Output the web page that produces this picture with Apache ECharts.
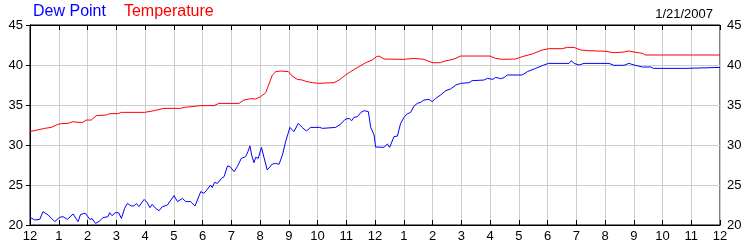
<!DOCTYPE html>
<html>
<head>
<meta charset="utf-8">
<script src="https://cdn.jsdelivr.net/npm/echarts@6/dist/echarts.min.js"></script>
<style>html,body{margin:0;padding:0;background:#fff;}#c{width:750px;height:250px;}</style>
</head>
<body>
<div id="c"></div>
<script>
var hourLabels = ['12','1','2','3','4','5','6','7','8','9','10','11','12','1','2','3','4','5','6','7','8','9','10','11','12'];
var yTicks = [20, 25, 30, 35, 40, 45];
var dateLabel = '1/21/2007';
var seriesNames = ['Dew Point', 'Temperature'];

var tempHours = [0, 0.28, 0.51, 0.74, 0.97, 1.09, 1.32, 1.5, 1.67, 1.84, 1.96, 2.13, 2.31, 2.66, 2.77, 3.06, 3.18, 3.99, 4.31, 4.66, 5.24, 5.36, 5.59, 5.94, 6.4, 6.57, 7.27, 7.44, 7.68, 7.85, 8.02, 8.2, 8.43, 8.55, 8.72, 8.99, 9.12, 9.3, 9.47, 9.59, 9.82, 10.05, 10.57, 10.75, 10.98, 11.15, 11.44, 11.68, 11.9, 12.05, 12.14, 12.31, 13.01, 13.36, 13.7, 13.99, 14.28, 14.4, 14.75, 14.98, 16.0, 16.19, 16.42, 16.89, 17.12, 17.47, 17.82, 18.05, 18.5, 18.69, 18.92, 19.15, 19.44, 20.03, 20.31, 20.66, 20.83, 21.01, 21.3, 21.41, 24];
var tempValues = [31.67, 31.9, 32.08, 32.2, 32.58, 32.67, 32.7, 32.92, 32.83, 32.83, 33.12, 33.12, 33.67, 33.75, 33.92, 33.92, 34.08, 34.08, 34.29, 34.58, 34.58, 34.7, 34.79, 34.92, 34.92, 35.2, 35.2, 35.62, 35.79, 35.75, 36.04, 36.54, 38.75, 39.17, 39.25, 39.17, 38.62, 38.2, 38.12, 37.96, 37.79, 37.71, 37.79, 38.12, 38.75, 39.17, 39.79, 40.29, 40.62, 41.04, 41.12, 40.75, 40.71, 40.83, 40.71, 40.29, 40.29, 40.46, 40.75, 41.12, 41.12, 40.83, 40.71, 40.75, 41.04, 41.38, 41.88, 42.04, 42.04, 42.2, 42.2, 41.88, 41.79, 41.71, 41.54, 41.62, 41.75, 41.62, 41.46, 41.25, 41.25];

var dewHours = [0, 0.16, 0.34, 0.45, 0.63, 0.86, 1.03, 1.15, 1.3, 1.5, 1.67, 1.76, 1.93, 2.08, 2.16, 2.28, 2.42, 2.54, 2.71, 2.77, 2.85, 2.97, 3.08, 3.18, 3.29, 3.39, 3.52, 3.62, 3.7, 3.79, 3.97, 4.08, 4.17, 4.25, 4.37, 4.49, 4.6, 4.78, 4.9, 5.01, 5.13, 5.3, 5.42, 5.59, 5.74, 5.94, 6.05, 6.17, 6.28, 6.34, 6.42, 6.52, 6.66, 6.75, 6.87, 6.96, 7.1, 7.21, 7.35, 7.5, 7.58, 7.65, 7.71, 7.79, 7.85, 7.94, 8.05, 8.25, 8.43, 8.55, 8.66, 8.78, 8.89, 9.04, 9.18, 9.24, 9.33, 9.47, 9.61, 9.76, 10.08, 10.11, 10.17, 10.63, 10.81, 10.96, 11.1, 11.19, 11.27, 11.39, 11.5, 11.62, 11.77, 11.85, 11.97, 12.02, 12.31, 12.43, 12.51, 12.66, 12.78, 12.89, 13.01, 13.12, 13.24, 13.36, 13.47, 13.59, 13.7, 13.88, 13.99, 14.11, 14.28, 14.46, 14.63, 14.81, 14.98, 15.27, 15.38, 15.79, 15.91, 16.1, 16.2, 16.37, 16.49, 16.6, 17.12, 17.3, 17.59, 17.82, 18.03, 18.75, 18.83, 18.92, 19.1, 19.27, 20.14, 20.31, 20.66, 20.83, 21.01, 21.3, 21.59, 21.68, 22.81, 22.86, 24];
var dewValues = [20.96, 20.63, 20.7, 21.67, 21.25, 20.42, 20.96, 21.04, 20.7, 21.38, 20.42, 21.33, 21.46, 20.7, 20.79, 20.2, 20.5, 20.92, 21.04, 21.54, 21.17, 21.54, 21.54, 20.83, 22.08, 22.7, 22.38, 22.4, 22.7, 22.3, 23.2, 22.79, 22.17, 22.58, 22.08, 21.79, 22.29, 22.5, 23.12, 23.67, 22.92, 23.33, 22.92, 22.92, 22.38, 24.17, 23.96, 24.46, 25.0, 24.67, 25.33, 25.2, 25.83, 26.04, 27.38, 27.29, 26.67, 27.29, 28.33, 28.54, 29.17, 29.88, 28.75, 27.79, 28.46, 28.33, 29.7, 26.88, 27.62, 27.7, 27.58, 28.75, 30.4, 32.2, 31.67, 31.75, 32.7, 32.2, 31.75, 32.2, 32.2, 32.38, 32.08, 32.2, 32.62, 33.2, 33.33, 33.04, 33.46, 33.54, 34.04, 34.29, 34.17, 32.2, 31.25, 29.75, 29.71, 30.12, 29.71, 31.04, 31.12, 32.7, 33.46, 33.88, 34.08, 34.88, 35.2, 35.33, 35.62, 35.7, 35.42, 35.83, 36.25, 36.79, 37.0, 37.5, 37.7, 37.79, 38.04, 38.12, 38.33, 38.2, 38.46, 38.29, 38.42, 38.75, 38.75, 39.17, 39.58, 39.92, 40.2, 40.2, 40.54, 40.2, 40.0, 40.2, 40.2, 39.96, 39.96, 40.2, 40.0, 39.75, 39.75, 39.58, 39.58, 39.7, 39.7];

function zip(xs, ys) { return xs.map(function (x, i) { return [x, ys[i]]; }); }

var FONT = 'Liberation Sans, Arial, sans-serif';
var chart = echarts.init(document.getElementById('c'), null, {renderer: 'canvas'});
var tickStyle = {show: true, inside: true, length: 5, lineStyle: {color: '#000', width: 1}};
chart.setOption({
  animation: false,
  backgroundColor: '#fff',
  textStyle: {fontFamily: FONT},
  title: {
    text: dateLabel, right: 32, top: 3,
    textStyle: {fontSize: 13, fontWeight: 'normal', color: '#000', fontFamily: FONT}
  },
  legend: {
    left: 28, top: 4, icon: 'none', itemWidth: 0, itemHeight: 0, itemGap: 13, padding: 0,
    textStyle: {fontSize: 16, fontFamily: FONT},
    data: [
      {name: seriesNames[0], textStyle: {color: '#0000ff'}},
      {name: seriesNames[1], textStyle: {color: '#ff0000'}}
    ]
  },
  grid: {left: 30, right: 30, top: 25, bottom: 25, show: true, borderColor: '#000', borderWidth: 1, containLabel: false},
  xAxis: [{
    type: 'value', min: 0, max: 24, interval: 1, position: 'bottom',
    axisLine: {show: true, lineStyle: {color: '#000'}},
    axisTick: tickStyle,
    axisLabel: {
      color: '#000', fontSize: 13, margin: 5, fontFamily: FONT, showMinLabel: true, showMaxLabel: true,
      formatter: function (v) { return hourLabels[Math.round(v)]; }
    },
    splitLine: {show: true, lineStyle: {color: '#cccccc', width: 1}}
  }, {
    type: 'value', min: 0, max: 24, interval: 1, position: 'top',
    axisLine: {show: true, lineStyle: {color: '#000'}},
    axisTick: tickStyle, axisLabel: {show: false}, splitLine: {show: false}
  }],
  yAxis: [{
    type: 'value', min: yTicks[0], max: yTicks[yTicks.length - 1], interval: 5, position: 'left',
    axisLine: {show: true, lineStyle: {color: '#000'}},
    axisTick: {show: false},
    axisLabel: {color: '#000', fontSize: 13, margin: 7, fontFamily: FONT, showMinLabel: true, showMaxLabel: true},
    splitLine: {show: true, lineStyle: {color: '#cccccc', width: 1}}
  }, {
    type: 'value', min: yTicks[0], max: yTicks[yTicks.length - 1], interval: 5, position: 'right',
    axisLine: {show: true, lineStyle: {color: '#000'}},
    axisTick: {show: true, inside: true, length: 4, lineStyle: {color: '#000'}},
    axisLabel: {color: '#000', fontSize: 13, margin: 7, fontFamily: FONT, showMinLabel: true, showMaxLabel: true},
    splitLine: {show: false}
  }],
  series: [{
    name: seriesNames[0], type: 'line', xAxisIndex: 0, yAxisIndex: 0,
    data: zip(dewHours, dewValues), showSymbol: false, symbol: 'none',
    lineStyle: {color: '#0000ff', width: 1}, itemStyle: {color: '#0000ff'}
  }, {
    name: seriesNames[1], type: 'line', xAxisIndex: 0, yAxisIndex: 0,
    data: zip(tempHours, tempValues), showSymbol: false, symbol: 'none',
    lineStyle: {color: '#ff0000', width: 1}, itemStyle: {color: '#ff0000'}
  }]
});
</script>
</body>
</html>
